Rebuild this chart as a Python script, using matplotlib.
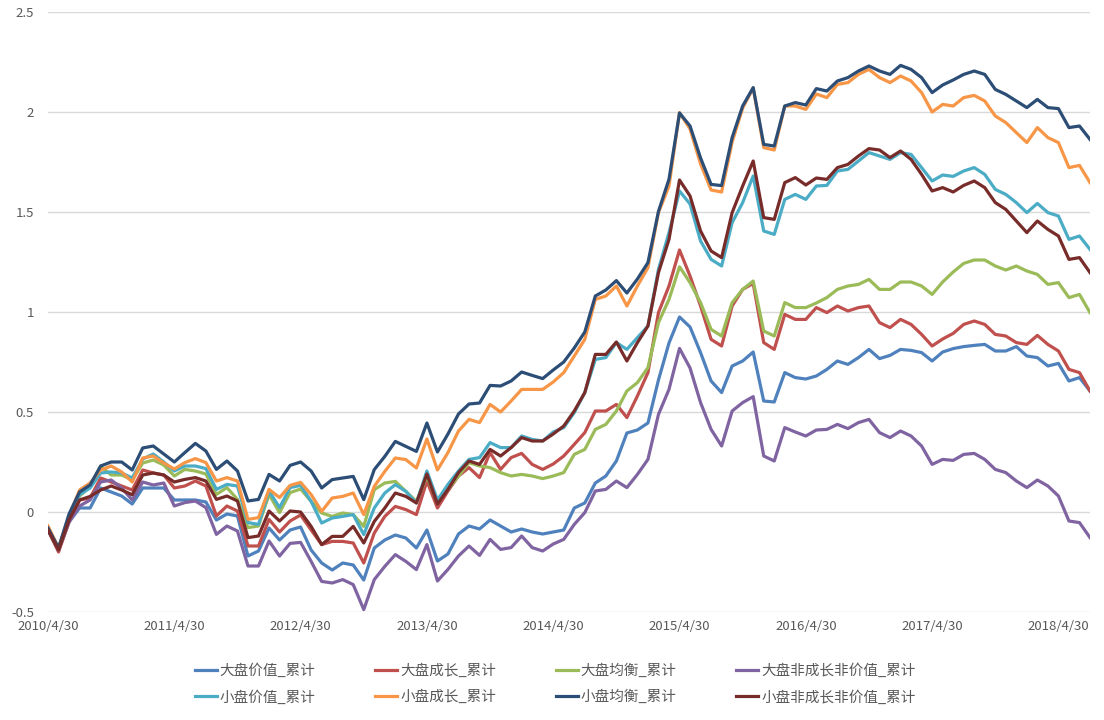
import numpy as np
import pandas as pd
import matplotlib
matplotlib.use("Agg")
import matplotlib.pyplot as plt

plt.rcParams['font.family'] = ['Noto Sans CJK SC', 'DejaVu Sans']

#%% data: monthly cumulative returns, 2010/4/30 .. 2018/7/31
dates = pd.date_range('2010-04-30', periods=100, freq='ME')
date_labels = [f"{d.year}/{d.month}/{d.day}" for d in dates]

big_value = [-0.09, -0.18, -0.05, 0.02, 0.02, 0.12, 0.10, 0.08, 0.04, 0.12, 0.12, 0.12,
             0.06, 0.06, 0.06, 0.05, -0.04, -0.01, -0.02, -0.22, -0.195, -0.08, -0.14, -0.09,
             -0.075, -0.19, -0.255, -0.29, -0.255, -0.265, -0.34, -0.18, -0.14, -0.115, -0.13, -0.18,
             -0.09, -0.245, -0.21, -0.11, -0.07, -0.085, -0.04, -0.07, -0.10, -0.085, -0.10, -0.11,
             -0.10, -0.09, 0.02, 0.045, 0.145, 0.18, 0.255, 0.395, 0.41, 0.445, 0.66, 0.845,
             0.975, 0.925, 0.797, 0.655, 0.597, 0.73, 0.755, 0.80, 0.555, 0.55, 0.697, 0.672,
             0.665, 0.68, 0.713, 0.755, 0.738, 0.772, 0.813, 0.767, 0.783, 0.813, 0.808, 0.797,
             0.755, 0.80, 0.817, 0.827, 0.833, 0.838, 0.805, 0.805, 0.827, 0.78, 0.772, 0.73,
             0.743, 0.655, 0.672, 0.605]
big_growth = [-0.09, -0.20, -0.05, 0.06, 0.07, 0.17, 0.15, 0.13, 0.11, 0.21, 0.195, 0.185,
              0.12, 0.13, 0.155, 0.13, -0.02, 0.03, 0.005, -0.17, -0.17, -0.037, -0.10, -0.045,
              -0.015, -0.09, -0.163, -0.147, -0.147, -0.155, -0.255, -0.105, -0.022, 0.028, 0.012, -0.013,
              0.155, 0.02, 0.105, 0.18, 0.222, 0.172, 0.297, 0.213, 0.272, 0.293, 0.238, 0.213,
              0.24, 0.28, 0.338, 0.397, 0.505, 0.505, 0.538, 0.472, 0.58, 0.697, 0.997, 1.13,
              1.31, 1.18, 1.03, 0.863, 0.83, 1.03, 1.113, 1.143, 0.847, 0.813, 0.988, 0.963,
              0.963, 1.022, 0.997, 1.03, 1.005, 1.022, 1.03, 0.947, 0.922, 0.963, 0.938, 0.888,
              0.83, 0.865, 0.893, 0.938, 0.955, 0.938, 0.888, 0.88, 0.847, 0.838, 0.883, 0.838,
              0.805, 0.713, 0.697, 0.605]
big_balanced = [-0.08, -0.18, -0.03, 0.08, 0.128, 0.23, 0.185, 0.185, 0.16, 0.245, 0.26, 0.235,
                0.18, 0.213, 0.205, 0.19, 0.088, 0.122, 0.063, -0.078, -0.07, 0.088, -0.003, 0.097,
                0.115, 0.053, -0.005, -0.022, -0.005, -0.013, -0.072, 0.112, 0.145, 0.153, 0.103, 0.053,
                0.178, 0.05, 0.113, 0.18, 0.247, 0.23, 0.222, 0.197, 0.18, 0.188, 0.18, 0.167,
                0.18, 0.197, 0.288, 0.313, 0.413, 0.438, 0.505, 0.605, 0.647, 0.722, 0.947, 1.063,
                1.226, 1.147, 1.047, 0.913, 0.88, 1.047, 1.113, 1.155, 0.905, 0.88, 1.047, 1.022,
                1.022, 1.045, 1.072, 1.113, 1.13, 1.138, 1.163, 1.113, 1.113, 1.15, 1.15, 1.13,
                1.088, 1.15, 1.2, 1.243, 1.26, 1.26, 1.23, 1.21, 1.23, 1.205, 1.188, 1.138,
                1.147, 1.072, 1.088, 0.997]
big_neither = [-0.09, -0.19, -0.05, 0.03, 0.06, 0.15, 0.16, 0.12, 0.06, 0.15, 0.135, 0.145,
               0.03, 0.047, 0.055, 0.022, -0.112, -0.07, -0.095, -0.27, -0.27, -0.145, -0.22, -0.157,
               -0.152, -0.247, -0.347, -0.355, -0.338, -0.363, -0.488, -0.338, -0.272, -0.213, -0.247, -0.288,
               -0.163, -0.345, -0.287, -0.22, -0.17, -0.217, -0.137, -0.187, -0.178, -0.12, -0.178, -0.195,
               -0.16, -0.137, -0.062, -0.003, 0.105, 0.113, 0.155, 0.122, 0.188, 0.263, 0.488, 0.613,
               0.818, 0.72, 0.547, 0.413, 0.33, 0.505, 0.547, 0.577, 0.28, 0.255, 0.422, 0.40,
               0.38, 0.41, 0.413, 0.438, 0.417, 0.447, 0.463, 0.397, 0.372, 0.405, 0.38, 0.33,
               0.238, 0.263, 0.258, 0.288, 0.293, 0.263, 0.213, 0.197, 0.155, 0.122, 0.16, 0.13,
               0.08, -0.045, -0.053, -0.128]
small_value = [-0.08, -0.18, -0.03, 0.086, 0.12, 0.195, 0.20, 0.195, 0.17, 0.265, 0.29, 0.25,
               0.205, 0.23, 0.23, 0.217, 0.113, 0.138, 0.13, -0.053, -0.062, 0.105, 0.022, 0.122,
               0.133, 0.053, -0.055, -0.03, -0.022, -0.013, -0.113, 0.02, 0.095, 0.137, 0.103, 0.045,
               0.205, 0.06, 0.138, 0.205, 0.263, 0.272, 0.347, 0.322, 0.322, 0.38, 0.363, 0.355,
               0.40, 0.422, 0.497, 0.597, 0.763, 0.772, 0.847, 0.813, 0.872, 0.93, 1.213, 1.397,
               1.605, 1.54, 1.355, 1.263, 1.23, 1.447, 1.547, 1.68, 1.405, 1.388, 1.563, 1.588,
               1.563, 1.63, 1.633, 1.705, 1.713, 1.755, 1.797, 1.78, 1.763, 1.797, 1.788, 1.722,
               1.655, 1.685, 1.678, 1.705, 1.722, 1.688, 1.613, 1.588, 1.547, 1.497, 1.543, 1.497,
               1.48, 1.363, 1.38, 1.313]
small_growth = [-0.07, -0.18, -0.02, 0.11, 0.145, 0.21, 0.23, 0.20, 0.15, 0.27, 0.28, 0.245,
                0.215, 0.247, 0.267, 0.247, 0.155, 0.172, 0.155, -0.037, -0.028, 0.113, 0.072, 0.133,
                0.148, 0.087, 0.003, 0.07, 0.078, 0.095, -0.013, 0.128, 0.203, 0.27, 0.262, 0.22,
                0.365, 0.21, 0.297, 0.405, 0.463, 0.447, 0.538, 0.50, 0.555, 0.613, 0.613, 0.613,
                0.65, 0.697, 0.78, 0.863, 1.063, 1.08, 1.13, 1.03, 1.13, 1.222, 1.497, 1.63,
                1.997, 1.915, 1.74, 1.61, 1.60, 1.85, 2.02, 2.12, 1.822, 1.81, 2.03, 2.03,
                2.013, 2.09, 2.072, 2.138, 2.147, 2.188, 2.213, 2.172, 2.147, 2.18, 2.155, 2.097,
                2.0, 2.038, 2.03, 2.072, 2.083, 2.055, 1.98, 1.947, 1.897, 1.847, 1.922, 1.872,
                1.847, 1.722, 1.733, 1.647]
small_balanced = [-0.08, -0.18, -0.01, 0.10, 0.135, 0.23, 0.25, 0.25, 0.21, 0.32, 0.33, 0.29,
                  0.25, 0.297, 0.343, 0.305, 0.213, 0.255, 0.205, 0.055, 0.063, 0.188, 0.155, 0.233,
                  0.25, 0.205, 0.12, 0.162, 0.17, 0.178, 0.062, 0.212, 0.278, 0.353, 0.328, 0.303,
                  0.445, 0.30, 0.39, 0.49, 0.54, 0.545, 0.633, 0.63, 0.655, 0.70, 0.683, 0.667,
                  0.71, 0.75, 0.82, 0.90, 1.08, 1.11, 1.157, 1.095, 1.165, 1.247, 1.503, 1.664,
                  1.995, 1.93, 1.77, 1.638, 1.632, 1.872, 2.03, 2.122, 1.838, 1.83, 2.03, 2.047,
                  2.035, 2.117, 2.105, 2.155, 2.172, 2.205, 2.23, 2.205, 2.188, 2.233, 2.213, 2.172,
                  2.097, 2.135, 2.16, 2.188, 2.205, 2.188, 2.113, 2.088, 2.055, 2.022, 2.063, 2.022,
                  2.017, 1.922, 1.93, 1.863]
small_neither = [-0.09, -0.19, -0.04, 0.06, 0.078, 0.11, 0.13, 0.11, 0.086, 0.185, 0.195, 0.185,
                 0.15, 0.163, 0.172, 0.155, 0.063, 0.08, 0.055, -0.128, -0.12, 0.005, -0.045, 0.005,
                 0.0, -0.072, -0.163, -0.122, -0.122, -0.072, -0.155, -0.047, 0.02, 0.095, 0.078, 0.045,
                 0.19, 0.04, 0.113, 0.197, 0.255, 0.238, 0.313, 0.28, 0.322, 0.372, 0.355, 0.355,
                 0.39, 0.43, 0.505, 0.597, 0.788, 0.788, 0.85, 0.755, 0.847, 0.93, 1.197, 1.363,
                 1.66, 1.58, 1.405, 1.305, 1.272, 1.497, 1.63, 1.755, 1.472, 1.463, 1.647, 1.672,
                 1.635, 1.67, 1.663, 1.722, 1.738, 1.78, 1.817, 1.81, 1.772, 1.805, 1.763, 1.688,
                 1.605, 1.622, 1.60, 1.633, 1.655, 1.622, 1.547, 1.513, 1.455, 1.397, 1.455, 1.413,
                 1.38, 1.263, 1.272, 1.197]

series_names = ['大盘价值_累计', '大盘成长_累计', '大盘均衡_累计', '大盘非成长非价值_累计',
                '小盘价值_累计', '小盘成长_累计', '小盘均衡_累计', '小盘非成长非价值_累计']
series_vals = [big_value, big_growth, big_balanced, big_neither,
               small_value, small_growth, small_balanced, small_neither]
colors = ['#4F81BD', '#C0504D', '#9BBB59', '#8064A2',
          '#4BACC6', '#F79646', '#2C4D75', '#772C2A']

#%% plot
fig = plt.figure(figsize=(11.04, 7.2), dpi=100)
ax = fig.add_axes([48/1104, 1-612/720, (1090-48)/1104, 600/720])

x = np.arange(len(dates))
lines = {}
for name, vals, c in zip(series_names, series_vals, colors):
    lines[name], = ax.plot(x, vals, color=c, lw=2.3, label=name, solid_joinstyle='round')

ax.set_xlim(0, len(dates) - 1)
ax.set_ylim(-0.5, 2.5)
ax.set_yticks([-0.5, 0, 0.5, 1, 1.5, 2, 2.5])
ax.set_yticklabels(['-0.5', '0', '0.5', '1', '1.5', '2', '2.5'])
ax.set_xticks(x[::12])
ax.set_xticklabels(date_labels[::12])
ax.tick_params(length=0, colors='#595959', labelsize=9.5)
ax.tick_params(axis='y', pad=10)
ax.tick_params(axis='x', pad=6)
ax.grid(axis='y', color='#D9D9D9', lw=1)
ax.set_axisbelow(True)
for s in ax.spines.values():
    s.set_visible(False)

# legend: big caps on first row, small caps on second row
order = [0, 4, 1, 5, 2, 6, 3, 7]
handles = [lines[series_names[k]] for k in order]
labels = [series_names[k] for k in order]
leg = fig.legend(handles, labels, ncol=4, loc='center', bbox_to_anchor=(0.503, 0.05),
                 frameon=False, fontsize=10.5, handlelength=1.5, handletextpad=0.2,
                 columnspacing=4.1, labelspacing=0.8)
for t in leg.get_texts():
    t.set_color('#595959')

plt.savefig('out.png', dpi=100)
